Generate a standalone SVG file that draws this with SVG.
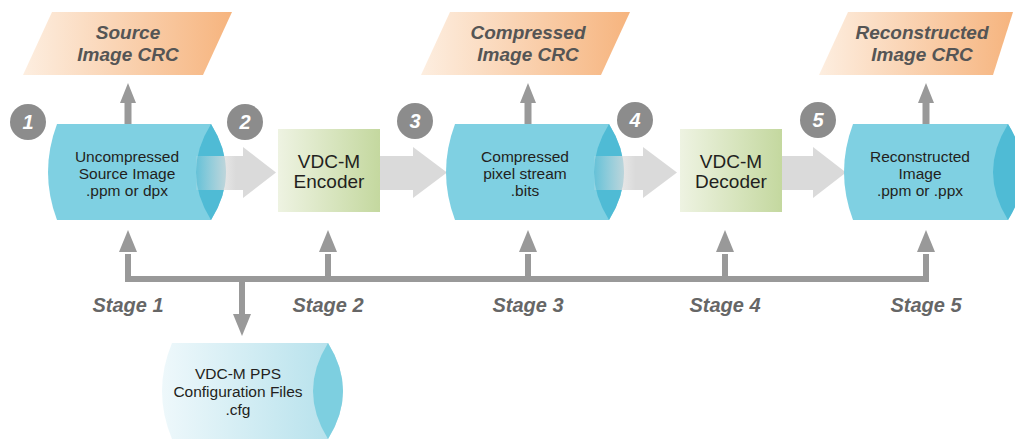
<svg xmlns="http://www.w3.org/2000/svg" width="1015" height="439" viewBox="0 0 1015 439">
<defs>
<linearGradient id="gCrc" x1="0" y1="0" x2="1" y2="0">
<stop offset="0" stop-color="#fdeee0"/><stop offset="1" stop-color="#f6b47e"/>
</linearGradient>
<linearGradient id="gBox" x1="0" y1="0" x2="1" y2="0">
<stop offset="0" stop-color="#eef3e2"/><stop offset="1" stop-color="#c4d89f"/>
</linearGradient>
<linearGradient id="gCfg" x1="0" y1="0" x2="1" y2="0">
<stop offset="0" stop-color="#eef8fb"/><stop offset="1" stop-color="#b3e0eb"/>
</linearGradient>
<linearGradient id="gFade" x1="0" y1="0" x2="1" y2="0">
<stop offset="0" stop-color="#e4e4e4" stop-opacity="0.15"/><stop offset="0.5" stop-color="#dadada" stop-opacity="1"/><stop offset="1" stop-color="#dadada"/>
</linearGradient>
<marker id="ah" viewBox="0 0 10 10" refX="9" refY="5" markerWidth="3" markerHeight="3.6" orient="auto" markerUnits="strokeWidth">
<path d="M0,0 L10,5 L0,10 Z" fill="#999"/>
</marker>
<style>
.crc{fill:url(#gCrc)}
.crct{font-family:"Liberation Sans",Arial,sans-serif;font-weight:bold;font-style:italic;font-size:19px;fill:#555;text-anchor:middle}
.body{fill:#7fd0e2}
.lens{fill:#4fbbd5}
.ct{font-family:"Liberation Sans",Arial,sans-serif;font-size:15.5px;fill:#231f20;text-anchor:middle}
.box{fill:url(#gBox)}
.bt{font-family:"Liberation Sans",Arial,sans-serif;font-size:19px;fill:#231f20;text-anchor:middle}
.num{fill:#8c8c8c}
.nt{font-family:"Liberation Sans",Arial,sans-serif;font-weight:bold;font-style:italic;font-size:20px;fill:#fff;text-anchor:middle}
.st{font-family:"Liberation Sans",Arial,sans-serif;font-weight:bold;font-style:italic;font-size:20px;fill:#666;text-anchor:middle}
.flow{fill:#dadada}
.fade{fill:url(#gFade)}
.gl{fill:#999}
.line{stroke:#999;stroke-width:6;fill:none}
</style>
</defs>

<g id="crc1"><polygon class="crc" points="52,12 232,12 203,75 23,75"/><text class="crct" x="128" y="39">Source</text><text class="crct" x="128" y="61">Image CRC</text></g>
<g id="crc3"><polygon class="crc" points="450,12 630,12 601,75 421,75"/><text class="crct" x="528" y="39">Compressed</text><text class="crct" x="528" y="61">Image CRC</text></g>
<g id="crc5"><polygon class="crc" points="848,12 1013,12 993,75 819,75"/><text class="crct" x="922" y="39">Reconstructed</text><text class="crct" x="922" y="61">Image CRC</text></g>

<g id="connectors">
<polygon class="gl" points="124.5,124 124.5,103 120,103 128,83 136,103 131.5,103 131.5,124"/>
<polygon class="gl" points="524.5,124 524.5,103 520,103 528,83 536,103 531.5,103 531.5,124"/>
<polygon class="gl" points="922.5,124 922.5,103 918,103 926,83 934,103 929.5,103 929.5,124"/>
<polygon class="flow" points="380,156 413,156 413,147 447,172.5 413,198 413,190 380,190"/>
<polygon class="flow" points="782,156 813,156 813,147 846,172.5 813,198 813,190 782,190"/>
<path class="line" d="M128,254 V279 H926 V254"/>
<line class="line" x1="328" y1="279" x2="328" y2="254"/>
<line class="line" x1="528" y1="279" x2="528" y2="254"/>
<line class="line" x1="725" y1="279" x2="725" y2="254"/>
<line class="line" x1="242" y1="279" x2="242" y2="316"/>
<polygon class="gl" points="119,252 128,230 137,252"/>
<polygon class="gl" points="319,252 328,230 337,252"/>
<polygon class="gl" points="519,252 528,230 537,252"/>
<polygon class="gl" points="716,252 725,230 734,252"/>
<polygon class="gl" points="917,252 926,230 935,252"/>
<polygon class="gl" points="233,314 242,336 251,314"/>
</g>

<g id="cyl1"><path class="body" d="M57,124 L211,124 Q241,172 211,220 L57,220 Q39,172 57,124 Z"/><path class="lens" d="M211,124 Q181,172 211,220 Q241,172 211,124 Z"/>
<text class="ct" x="127" y="162">Uncompressed</text><text class="ct" x="127" y="179">Source Image</text><text class="ct" x="127" y="196">.ppm or dpx</text></g>
<g id="cyl3"><path class="body" d="M455,124 L609,124 Q639,172 609,220 L455,220 Q437,172 455,124 Z"/><path class="lens" d="M609,124 Q579,172 609,220 Q639,172 609,124 Z"/>
<text class="ct" x="525" y="162">Compressed</text><text class="ct" x="525" y="179">pixel stream</text><text class="ct" x="525" y="196">.bits</text></g>
<g id="cyl5"><path class="body" d="M853,124 L1008,124 Q1038,172 1008,220 L853,220 Q835,172 853,124 Z"/><path class="lens" d="M1008,124 Q978,172 1008,220 Q1038,172 1008,124 Z"/>
<text class="ct" x="920" y="162">Reconstructed</text><text class="ct" x="920" y="179">Image</text><text class="ct" x="920" y="196">.ppm or .ppx</text></g>

<g id="arrow2"><polygon class="fade" points="196,156 243,156 243,147 276,172.5 243,198 243,190 196,190"/></g>
<g id="arrow4"><polygon class="fade" points="594,156 643,156 643,147 677,172.5 643,198 643,190 594,190"/></g>

<g id="encoder"><rect class="box" x="278" y="129" width="102" height="83"/><text class="bt" x="329" y="168">VDC-M</text><text class="bt" x="329" y="188">Encoder</text></g>
<g id="decoder"><rect class="box" x="680" y="129" width="102" height="83"/><text class="bt" x="731" y="168">VDC-M</text><text class="bt" x="731" y="188">Decoder</text></g>

<g id="n1"><circle class="num" cx="28" cy="122" r="18"/><text class="nt" x="28" y="129">1</text></g>
<g id="n2"><circle class="num" cx="245" cy="122" r="18"/><text class="nt" x="245" y="129">2</text></g>
<g id="n3"><circle class="num" cx="415" cy="121" r="18"/><text class="nt" x="415" y="128">3</text></g>
<g id="n4"><circle class="num" cx="635" cy="120" r="18"/><text class="nt" x="635" y="127">4</text></g>
<g id="n5"><circle class="num" cx="818" cy="120" r="18"/><text class="nt" x="818" y="127">5</text></g>

<g id="stages">
<text class="st" x="128" y="312">Stage 1</text>
<text class="st" x="328" y="312">Stage 2</text>
<text class="st" x="528" y="312">Stage 3</text>
<text class="st" x="725" y="312">Stage 4</text>
<text class="st" x="926" y="312">Stage 5</text>
</g>

<g id="cfg"><path fill="url(#gCfg)" d="M172,343 L328,343 Q358,391 328,439 L172,439 Q152,391 172,343 Z"/><path fill="#7dcfe0" d="M328,343 Q298,391 328,439 Q358,391 328,343 Z"/>
<text class="ct" x="238" y="379">VDC-M PPS</text><text class="ct" x="238" y="397">Configuration Files</text><text class="ct" x="238" y="415">.cfg</text></g>
</svg>
